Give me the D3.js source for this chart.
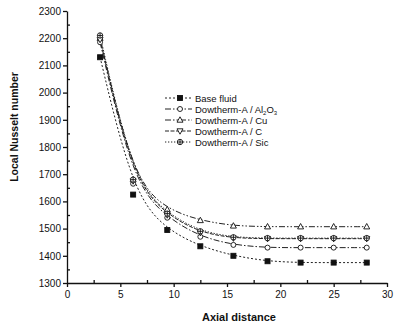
<!DOCTYPE html>
<html>
<head>
<meta charset="utf-8">
<script src="https://cdn.jsdelivr.net/npm/d3@7"></script>
<style>
  body { margin: 0; background: #fff; }
  text { font-family: "Liberation Sans", Arial, sans-serif; fill: #111; }
  .axis path, .axis line { stroke: #111; stroke-width: 1.3; }
  .axis text { font-size: 10px; }
</style>
</head>
<body>
<div id="chart"></div>
<script>
// chart values
const axial = [3.1, 6.2, 9.4, 12.5, 15.6, 18.8, 21.9, 25, 28.1]
const baseFluid = [2130, 1625, 1495, 1435, 1400, 1380, 1375, 1375, 1375]
const al2o3 = [2185, 1665, 1540, 1470, 1440, 1430, 1430, 1430, 1430]
const cu = [2200, 1680, 1570, 1530, 1510, 1507, 1507, 1507, 1507]
const carbon = [2195, 1675, 1550, 1485, 1465, 1463, 1463, 1463, 1463]
const sic = [2210, 1680, 1555, 1490, 1468, 1465, 1465, 1465, 1465]
const xTicks = [0, 5, 10, 15, 20, 25, 30]
const yTicks = [1300, 1400, 1500, 1600, 1700, 1800, 1900, 2000, 2100, 2200, 2300]

const series = [
    { name: "Base fluid", values: baseFluid, symbol: "square", fill: "#111", dash: "2,2" },
    { name: "Dowtherm-A / Al2O3", values: al2o3, symbol: "circle", fill: "#fff", dash: "6,2,1.5,2" },
    { name: "Dowtherm-A / Cu", values: cu, symbol: "triangle", fill: "#fff", dash: "6,2,1.5,2,1.5,2" },
    { name: "Dowtherm-A / C", values: carbon, symbol: "down", fill: "#fff", dash: "4,1.5" },
    { name: "Dowtherm-A / Sic", values: sic, symbol: "plus", fill: "#fff", dash: "1.3,1.7" }
]

const width = 398
const height = 329
const mLeft = 67, mRight = 387, mTop = 11, mBottom = 283

const svg = d3.select("#chart").append("svg").attr("width", width).attr("height", height)

const x = d3.scaleLinear().domain([0, 30]).range([mLeft, mRight])
const y = d3.scaleLinear().domain([1300, 2300]).range([mBottom, mTop])

// minor ticks (inside)
svg.append("g").attr("class", "axis").attr("transform", `translate(0,${mBottom})`)
    .call(d3.axisTop(x).tickValues(d3.range(2.5, 30, 5)).tickSize(3).tickFormat(""))
    .select(".domain").remove()
svg.append("g").attr("class", "axis").attr("transform", `translate(${mLeft},0)`)
    .call(d3.axisRight(y).tickValues(d3.range(1350, 2300, 100)).tickSize(3).tickFormat(""))
    .select(".domain").remove()

// major ticks (outside)
svg.append("g").attr("class", "axis").attr("transform", `translate(0,${mBottom})`)
    .call(d3.axisBottom(x).tickValues(xTicks).tickSize(4).tickSizeOuter(0).tickPadding(4).tickFormat(d3.format("d")))
svg.append("g").attr("class", "axis").attr("transform", `translate(${mLeft},0)`)
    .call(d3.axisLeft(y).tickValues(yTicks).tickSize(4).tickSizeOuter(0).tickPadding(2).tickFormat(d3.format("d")))

svg.append("text").attr("x", 239).attr("y", 321).attr("text-anchor", "middle")
    .style("font-size", "11px").style("font-weight", "bold").text("Axial distance")
svg.append("text").attr("transform", "translate(18,127) rotate(-90)").attr("text-anchor", "middle")
    .style("font-size", "10.5px").style("font-weight", "bold").text("Local Nusselt number")

function drawSymbol(g, type, cx, cy, fill) {
    const s = g.append("g").attr("transform", `translate(${cx},${cy})`)
        .attr("stroke", "#111").attr("stroke-width", 0.9).attr("fill", fill)
    if (type === "square") {
        s.append("rect").attr("x", -2.5).attr("y", -2.5).attr("width", 5).attr("height", 5)
    } else if (type === "circle") {
        s.append("circle").attr("r", 2.5)
    } else if (type === "triangle") {
        s.append("path").attr("d", "M0,-3.2L3,2.2L-3,2.2Z")
    } else if (type === "down") {
        s.append("path").attr("d", "M0,3.2L3,-2.2L-3,-2.2Z")
    } else {
        s.append("circle").attr("r", 2.7)
        s.append("path").attr("d", "M-2.7,0H2.7M0,-2.7V2.7").attr("fill", "none")
    }
}

const line = d3.line().x(d => x(d[0])).y(d => y(d[1])).curve(d3.curveBasis)

series.forEach(s => {
    const pts = axial.map((a, i) => [a, s.values[i]])
    svg.append("path").datum(pts).attr("d", line).attr("fill", "none")
        .attr("stroke", "#222").attr("stroke-width", 1).attr("stroke-dasharray", s.dash)
})
series.forEach(s => {
    axial.forEach((a, i) => drawSymbol(svg, s.symbol, x(a), y(s.values[i]), s.fill))
})

// legend
const legend = svg.append("g").attr("transform", "translate(165,98)")
series.forEach((s, i) => {
    const row = legend.append("g").attr("transform", `translate(0,${i * 11})`)
    row.append("line").attr("x1", 0).attr("x2", 27).attr("y1", 0).attr("y2", 0)
        .attr("stroke", "#222").attr("stroke-width", 1).attr("stroke-dasharray", s.dash)
    drawSymbol(row, s.symbol, 15, 0, s.fill)
    const t = row.append("text").attr("x", 30).attr("y", 3.5).style("font-size", "9.5px")
    if (s.name === "Dowtherm-A / Al2O3") {
        t.append("tspan").text("Dowtherm-A / Al")
        t.append("tspan").text("2").attr("dy", 2).style("font-size", "6px")
        t.append("tspan").text("O").attr("dy", -2)
        t.append("tspan").text("3").attr("dy", 2).style("font-size", "6px")
    } else {
        t.text(s.name)
    }
})
</script>
</body>
</html>
